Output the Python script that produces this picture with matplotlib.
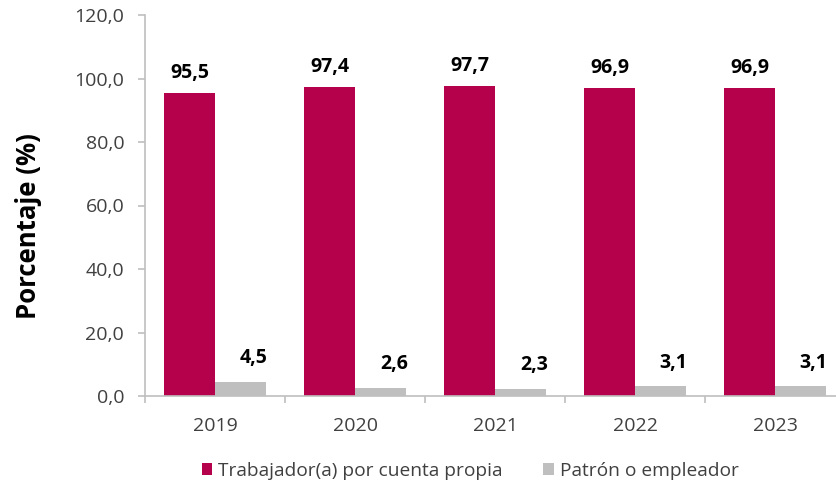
import numpy as np
import matplotlib.pyplot as plt

plt.rcParams['font.family'] = ['Open Sans', 'DejaVu Sans']

years = ["2019", "2020", "2021", "2022", "2023"]
cuenta_propia = [95.5, 97.4, 97.7, 96.9, 96.9]
patron = [4.5, 2.6, 2.3, 3.1, 3.1]

RED = "#B5004B"
GRAY = "#BFBFBF"

fig = plt.figure(figsize=(8.36, 4.82), dpi=100)
ax = fig.add_axes([145 / 836, 86 / 482, 700 / 836, 381 / 482])

x = np.arange(len(years))
w = 0.365
ax.bar(x - w / 2, cuenta_propia, w, color=RED, label="Trabajador(a) por cuenta propia")
ax.bar(x + w / 2, patron, w, color=GRAY, label="Patrón o empleador")

for xi, v in zip(x, cuenta_propia):
    ax.annotate(f"{v:.1f}".replace(".", ","), (xi - w / 2, v), xytext=(0, 14.5),
                textcoords="offset points", ha="center", va="center",
                fontsize=14, fontweight="bold")
for xi, v in zip(x, patron):
    ax.annotate(f"{v:.1f}".replace(".", ","), (xi + w / 2, v), xytext=(9.5, 17),
                textcoords="offset points", ha="center", va="center",
                fontsize=14, fontweight="bold")

ax.set_ylim(0, 120)
ax.set_yticks(np.arange(0, 121, 20))
ax.set_yticklabels([f"{t:.1f}".replace(".", ",") for t in np.arange(0, 121, 20)])
ax.set_xlim(-0.5, len(years) - 0.5)
ax.set_xticks(x)
ax.set_xticklabels(years)
ax.set_xticks(np.arange(-0.5, len(years)), minor=True)
ax.tick_params(axis="x", which="major", length=0, pad=15, labelsize=14, colors="#404040")
ax.tick_params(axis="x", which="minor", length=5, color=GRAY, width=1.2)
ax.tick_params(axis="y", length=5, color=GRAY, width=1.2, labelsize=14, colors="#404040", pad=10)

for s in ["top", "right"]:
    ax.spines[s].set_visible(False)
for s in ["left", "bottom"]:
    ax.spines[s].set_color(GRAY)
    ax.spines[s].set_linewidth(1.2)

ax.set_ylabel("Porcentaje (%)", fontsize=18.5, fontweight="bold")
ax.yaxis.set_label_coords(-0.147, 0.446)

ax.legend(loc="center", bbox_to_anchor=(470 / 836, 11 / 482), bbox_transform=fig.transFigure,
          ncol=2, frameon=False, fontsize=13.8, handlelength=0.57, handleheight=0.57,
          handletextpad=0.3, columnspacing=2.1, labelcolor="#404040",
          borderpad=0, borderaxespad=0)

fig.savefig("out.png", dpi=100)
